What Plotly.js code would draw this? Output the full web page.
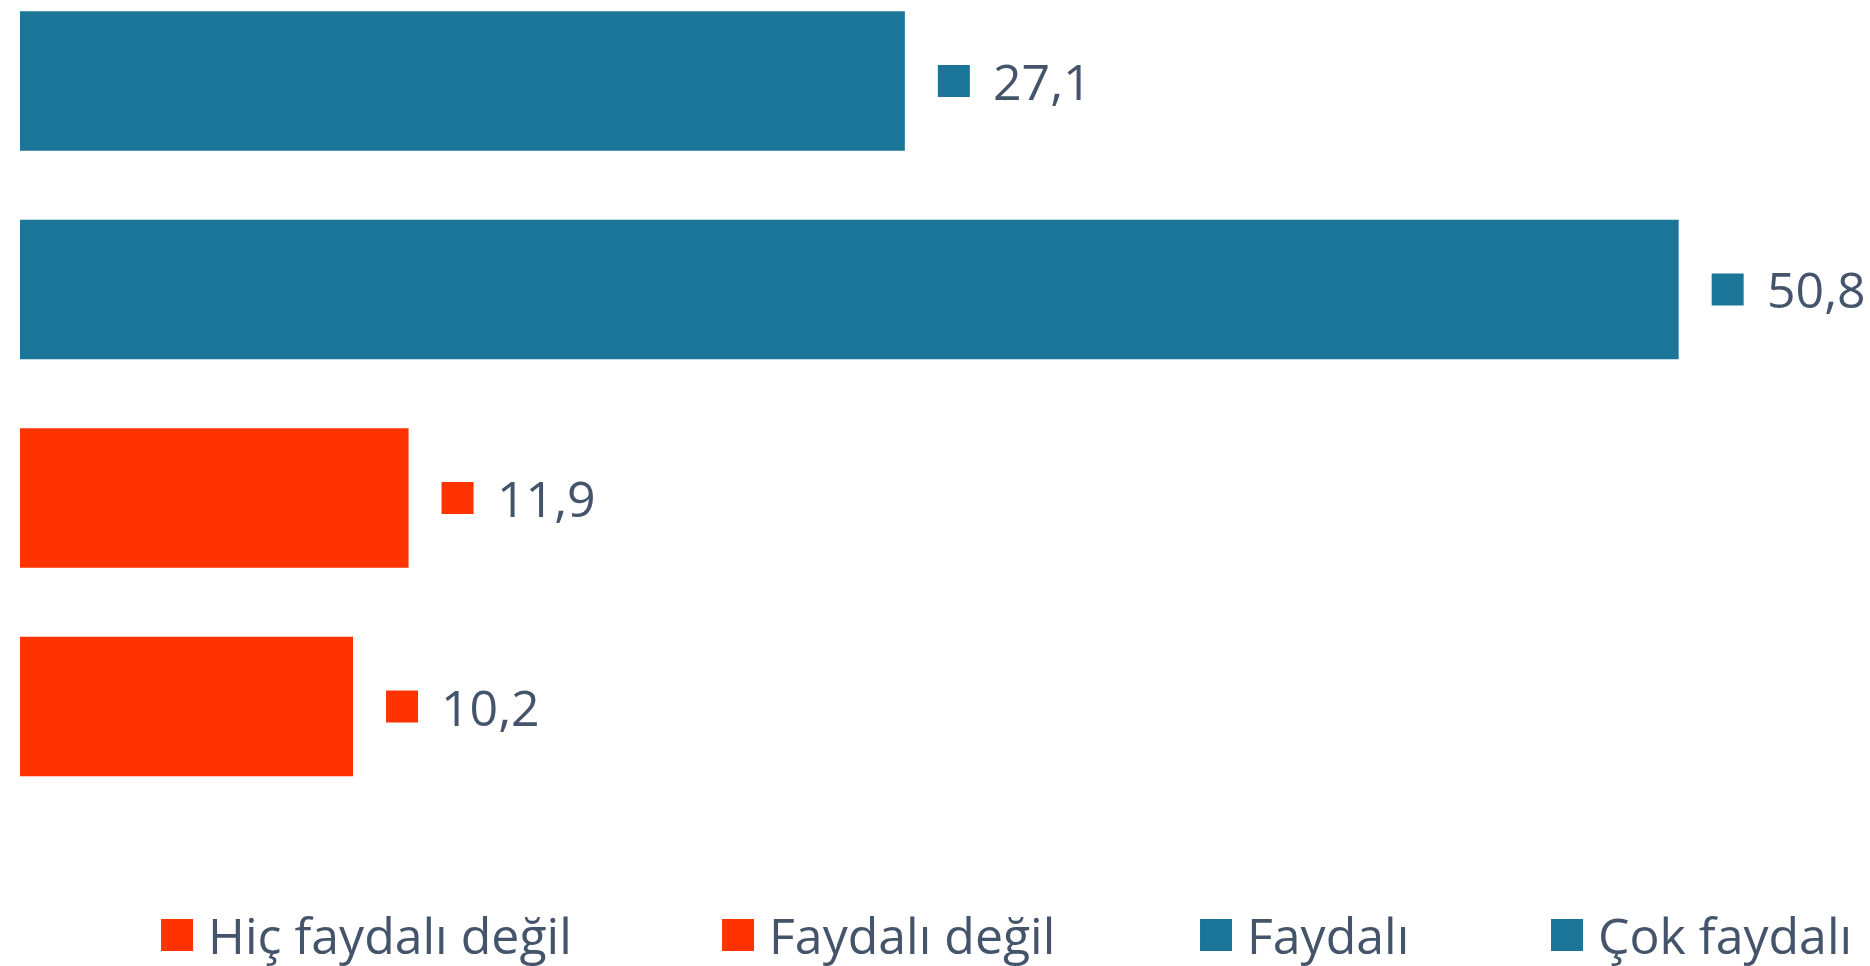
<!DOCTYPE html>
<html>
<head>
<meta charset="utf-8">
<script src="https://cdn.plot.ly/plotly-3.0.1.min.js"></script>
<style>
html,body{margin:0;padding:0;background:#fff;}
#chart{width:1870px;height:966px;}
</style>
</head>
<body>
<div id="chart"></div>
<script>
// Data (bottom to top order of categories)
const categories = ["Hiç faydalı değil", "Faydalı değil", "Faydalı", "Çok faydalı"];
const values = [10.2, 11.9, 50.8, 27.1];
const valueLabels = ["10,2", "11,9", "50,8", "27,1"];
const colors = ["#FF3300", "#FF3300", "#1B7599", "#1B7599"];

const TEXT_COLOR = "#44546A";
const FONT = "'Open Sans', 'Noto Sans', sans-serif";
const FONT_SIZE = 50;

const legendNames = ["legend", "legend2", "legend3", "legend4"];
const legendX = [0.0781, 0.3781, 0.6337, 0.8214];

const traces = categories.map((c, i) => ({
  type: "bar",
  orientation: "h",
  name: c,
  y: [c],
  x: [values[i]],
  width: 0.669,
  marker: {color: colors[i]},
  legend: legendNames[i],
  hoverinfo: "skip"
}));

const annotations = categories.map((c, i) => ({
  x: values[i], y: c, xref: "x", yref: "y",
  text: valueLabels[i],
  showarrow: false,
  xanchor: "left", yanchor: "middle",
  xshift: 86, yshift: 0,
  font: {family: FONT, size: FONT_SIZE, color: TEXT_COLOR}
}));

const shapes = categories.map((c, i) => ({
  type: "rect",
  xref: "x", yref: "y",
  xsizemode: "pixel", ysizemode: "pixel",
  xanchor: values[i], yanchor: i,
  x0: 33, x1: 65, y0: -16, y1: 16,
  fillcolor: colors[i], line: {width: 0}
}));

const layout = {
  width: 1870, height: 966,
  margin: {l: 20, r: 0, t: 0, b: 156, pad: 0},
  paper_bgcolor: "#ffffff",
  plot_bgcolor: "#ffffff",
  barmode: "overlay",
  showlegend: true,
  font: {family: FONT, color: TEXT_COLOR},
  xaxis: {range: [0, 56.66], visible: false, showgrid: false, zeroline: false, fixedrange: true},
  yaxis: {type: "category", categoryorder: "array", categoryarray: categories,
          range: [-0.496, 3.388], visible: false, showgrid: false, zeroline: false, fixedrange: true},
  annotations: annotations,
  shapes: shapes
};
legendNames.forEach((ln, i) => {
  layout[ln] = {
    orientation: "h", xref: "container", yref: "container",
    x: legendX[i], xanchor: "left", y: 0.0321, yanchor: "middle",
    itemwidth: 52,
    font: {family: FONT, size: FONT_SIZE, color: TEXT_COLOR},
    bgcolor: "rgba(0,0,0,0)", borderwidth: 0
  };
});

Plotly.newPlot("chart", traces, layout, {displayModeBar: false, staticPlot: true}).then(gd => {
  gd.querySelectorAll(".legendpoints path").forEach(p => {
    p.setAttribute("d", "M16,16H-16V-16H16Z");
  });
});
</script>
</body>
</html>
